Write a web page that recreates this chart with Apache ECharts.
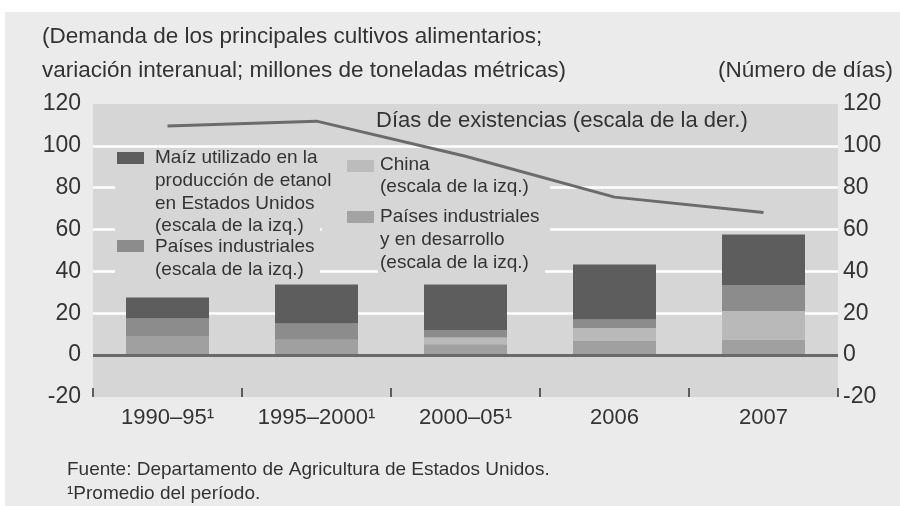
<!DOCTYPE html>
<html><head><meta charset="utf-8">
<script src="https://cdn.jsdelivr.net/npm/echarts@6/dist/echarts.min.js"></script>
<style>html,body{margin:0;padding:0;background:#fff}#c{width:900px;height:506px}</style>
</head><body><div id="c"></div>
<script>
var categories = ['1990–95¹', '1995–2000¹', '2000–05¹', '2006', '2007'];
var desarrollo = [9.2, 7.3, 5.2, 7.0, 7.3];
var china = [0, 0, 3.2, 6.0, 13.8];
var industriales = [8.3, 7.8, 3.5, 4.0, 12.4];
var maiz = [10.1, 18.7, 21.9, 26.3, 24.1];
var dias = [109.5, 111.8, 95, 75.5, 68.2];
var leftTicks = [-20, 0, 20, 40, 60, 80, 100, 120];

var FONT = 'Liberation Sans, Arial, sans-serif';
var TXT = '#333';
var chart = echarts.init(document.getElementById('c'), null, {renderer: 'canvas'});

function t(x, y, s, size, extra) {
  var o = {type: 'text', x: x, y: y, z: 100, style: {text: s, fill: TXT, font: size + 'px ' + FONT, textVerticalAlign: 'middle'}};
  if (extra) for (var k in extra) o.style[k] = extra[k];
  return o;
}
var PLOT = '#d6d6d6';
var LG = 19;
var graphics = [
  {type: 'rect', z: -10, shape: {x: 5, y: 12, width: 895, height: 494}, style: {fill: '#ebebeb'}},
  t(42, 37, '(Demanda de los principales cultivos alimentarios;', 22.5),
  t(42, 71, 'variación interanual; millones de toneladas métricas)', 22.5),
  t(893, 71, '(Número de días)', 22.5, {textAlign: 'right'}),
  t(376, 121, 'Días de existencias (escala de la der.)', 22),
  // legend backgrounds hiding gridlines
  {type: 'rect', z: 1, shape: {x: 115, y: 150, width: 205, height: 131}, style: {fill: PLOT}},
  {type: 'rect', z: 1, shape: {x: 322, y: 152, width: 228, height: 94}, style: {fill: PLOT}},
  {type: 'rect', z: 1, shape: {x: 378, y: 246, width: 167, height: 34}, style: {fill: PLOT}},
  {type: 'rect', z: 100, shape: {x: 117, y: 152, width: 27, height: 12}, style: {fill: '#5d5d5d'}},
  t(155, 158, 'Maíz utilizado en la', LG),
  t(155, 181, 'producción de etanol', LG),
  t(155, 204, 'en Estados Unidos', LG),
  t(155, 226, '(escala de la izq.)', LG),
  {type: 'rect', z: 100, shape: {x: 117, y: 240, width: 27, height: 12}, style: {fill: '#8c8c8c'}},
  t(155, 247, 'Países industriales', LG),
  t(155, 270, '(escala de la izq.)', LG),
  {type: 'rect', z: 100, shape: {x: 347, y: 160, width: 27, height: 12}, style: {fill: '#bcbcbc'}},
  t(380, 165, 'China', LG),
  t(380, 187, '(escala de la izq.)', LG),
  {type: 'rect', z: 100, shape: {x: 347, y: 211, width: 27, height: 12}, style: {fill: '#a3a3a3'}},
  t(380, 217, 'Países industriales', LG),
  t(380, 240, 'y en desarrollo', LG),
  t(380, 263, '(escala de la izq.)', LG),
  t(67, 470, 'Fuente: Departamento de Agricultura de Estados Unidos.', 19),
  t(67, 494, '¹Promedio del período.', 19)
];

function barSeries(name, data, color) {
  return {name: name, type: 'bar', stack: 's', data: data, barWidth: 83,
    itemStyle: {color: color}, silent: true, z: 2};
}
var series = [
  barSeries('Países industriales y en desarrollo', desarrollo, '#a0a0a0'),
  barSeries('China', china, '#b9b9b9'),
  barSeries('Países industriales', industriales, '#8c8c8c'),
  barSeries('Maíz utilizado en la producción de etanol en Estados Unidos', maiz, '#5d5d5d'),
  {name: 'Días de existencias', type: 'line', yAxisIndex: 1, data: dias, showSymbol: false,
    lineStyle: {color: '#6b6b6b', width: 3}, z: 5, silent: true,
    markLine: {silent: true, symbol: 'none', label: {show: false},
      lineStyle: {color: '#6a6a6a', width: 3, type: 'solid'}, data: [{yAxis: 0}]}}
];

var yCommon = {type: 'value', min: -20, max: 120, interval: 20,
  axisLine: {show: false}, axisTick: {show: false}};
chart.setOption({
  animation: false,
  textStyle: {fontFamily: FONT},
  grid: {left: 93, right: 62, top: 104, bottom: 109, show: true, backgroundColor: PLOT, borderWidth: 0, containLabel: false},
  xAxis: {type: 'category', data: categories, position: 'bottom',
    axisLine: {show: false, onZero: false},
    axisTick: {show: true, inside: true, interval: 0, length: 9, lineStyle: {color: '#333', width: 1.5}},
    axisLabel: {color: TXT, fontSize: 22, margin: 10, interval: 0, fontFamily: FONT},
    splitLine: {show: false}},
  yAxis: [
    Object.assign({}, yCommon, {position: 'left',
      axisLabel: {color: TXT, fontSize: 23, margin: 12, fontFamily: FONT},
      splitLine: {show: true, lineStyle: {color: ['transparent', 'transparent', '#fff', '#fff', '#fff', '#fff', '#fff', 'transparent'], width: 2.5}}}),
    Object.assign({}, yCommon, {position: 'right',
      axisLabel: {color: TXT, fontSize: 23, margin: 5, fontFamily: FONT},
      splitLine: {show: false}})
  ],
  graphic: graphics,
  series: series
});
</script>
</body></html>
